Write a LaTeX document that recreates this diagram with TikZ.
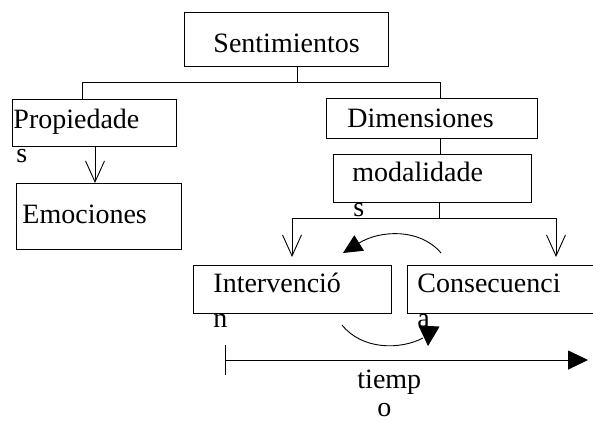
\documentclass[tikz,border=0pt]{standalone}
\usepackage{fontspec}
\setmainfont{Liberation Serif}
\usetikzlibrary{arrows.meta}
\begin{document}
\begin{tikzpicture}[x=1pt,y=-1pt,line width=0.9pt,
  box/.style={draw,anchor=north west,inner sep=0pt,minimum width=#1},
  lbl/.style={anchor=base west,inner sep=0pt,font=\fontsize{28}{34}\selectfont},
  vee/.style={-{Straight Barb[length=21pt,width=19pt]}},
]
\useasboundingbox (0,0) rectangle (593,421);
\clip (0,0) rectangle (593,421);
% boxes
\node[box=204pt,minimum height=54pt] (sent) at (184,12) {};
\node[box=164pt,minimum height=47pt] (prop) at (12,99) {};
\node[box=165pt,minimum height=66pt] (emo) at (16,183) {};
\node[box=211pt,minimum height=40pt] (dim) at (326,98) {};
\node[box=198pt,minimum height=48pt] (mod) at (333,154) {};
\node[box=198pt,minimum height=48pt] (int) at (193,265) {};
\node[box=200pt,minimum height=48pt] (cons) at (407,265) {};
% texts
\node[lbl] (tsent) at (213,52) {Sentimientos};
\node[lbl] (tprop1) at (13,128) {Propiedade};
\node[lbl] (tprop2) at (16,162) {s};
\node[lbl] (temo) at (22,223) {Emociones};
\node[lbl] (tdim) at (347,127) {Dimensiones};
\node[lbl] (tmod1) at (352,181) {modalidade};
\node[lbl] (tmod2) at (353,216) {s};
\node[lbl] (tint1) at (213,292) {Intervenció};
\node[lbl] (tint2) at (213,327) {n};
\node[lbl] (tcons1) at (417,292) {Consecuenci};
\node[lbl] (tcons2) at (417,327) {a};
\node[lbl] (ttime1) at (357,388) {tiemp};
\node[lbl] (ttime2) at (377,416) {o};
% tree connectors
\coordinate (sj) at (297,82);
\coordinate (hL) at (82,82);
\coordinate (hR) at (440,82);
\draw (sent.south -| sj) -- (sj);
\draw (hL |- prop.north) -- (hL) -- (hR) -- (hR |- dim.north);
\coordinate (pe) at (95,0);
\draw[vee] (pe |- prop.south) -- (pe |- emo.north);
\draw (hR |- dim.south) -- (hR |- mod.north);
\coordinate (mj) at (439,218);
\coordinate (ml) at (292,218);
\coordinate (mr) at (556,218);
\draw (mj |- mod.south) -- (mj);
\draw (ml) -- (mr);
\draw[vee] (ml) -- ([yshift=8pt]ml |- int.north);
\draw[vee] (mr) -- ([yshift=8pt]mr |- cons.north);
% curved arrows
\coordinate (c1s) at (441,253);
\coordinate (c1e) at (343,253);
\draw[-{Triangle[length=19pt,width=18pt]}] (c1s) .. controls (420,228) and (380,230) .. (c1e);
\coordinate (c2s) at (342,325);
\coordinate (c2e) at (423,338);
\draw (c2s) .. controls (362,350) and (400,350) .. (c2e);
\coordinate (t2b) at (429,326);
\coordinate (t2t) at (428,346);
\draw[-{Triangle[length=20pt,width=21pt]}] (t2b) -- (t2t);
% time axis
\coordinate (tk1) at (225,345);
\coordinate (tk2) at (225,375);
\coordinate (ts) at (225,360);
\coordinate (te) at (588,360);
\draw (tk1) -- (tk2);
\draw[-{Triangle[length=20pt,width=19pt]}] (ts) -- (te);
\end{tikzpicture}
\end{document}
